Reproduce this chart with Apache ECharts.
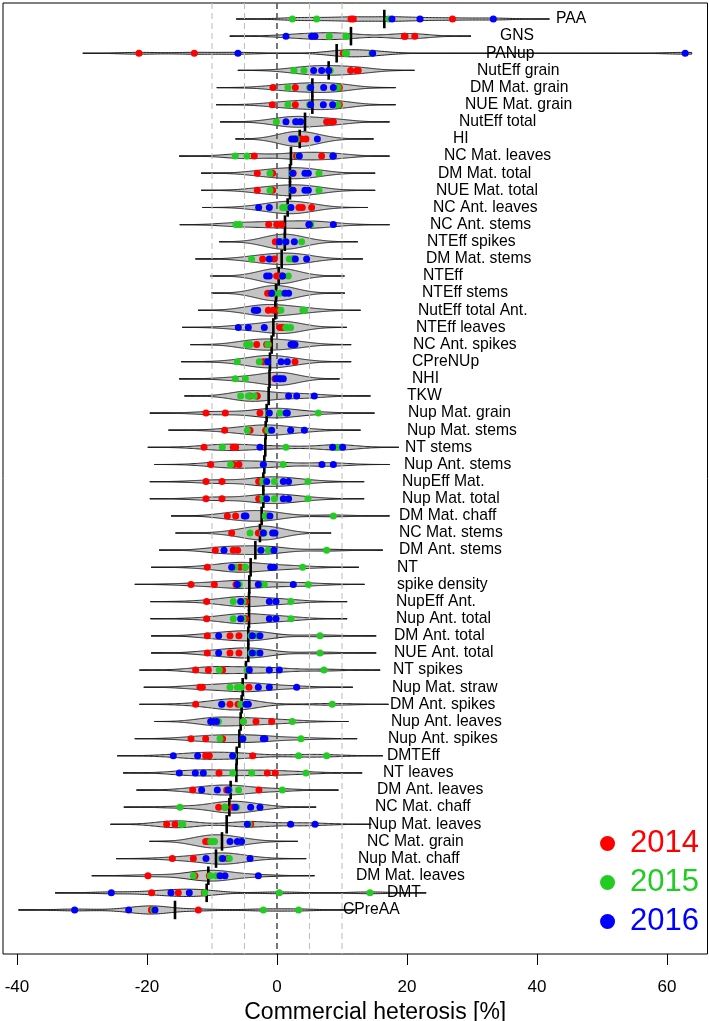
<!DOCTYPE html>
<html><head><meta charset="utf-8">
<script src="https://cdn.jsdelivr.net/npm/echarts@6/dist/echarts.min.js"></script>
<style>html,body{margin:0;padding:0;background:#fff}#c{width:709px;height:1021px}</style>
</head><body><div id="c"></div>
<script>
// ---------- DATA ----------
const traits = ["PAA","GNS","PANup","NutEff grain","DM Mat. grain","NUE Mat. grain","NutEff total","HI",
"NC Mat. leaves","DM Mat. total","NUE Mat. total","NC Ant. leaves","NC Ant. stems","NTEff spikes","DM Mat. stems",
"NTEff","NTEff stems","NutEff total Ant.","NTEff leaves","NC Ant. spikes","CPreNUp","NHI","TKW","Nup Mat. grain",
"Nup Mat. stems","NT stems","Nup Ant. stems","NupEff Mat.","Nup Mat. total","DM Mat. chaff","NC Mat. stems",
"DM Ant. stems","NT","spike density","NupEff Ant.","Nup Ant. total","DM Ant. total","NUE Ant. total","NT spikes",
"Nup Mat. straw","DM Ant. spikes","Nup Ant. leaves","Nup Ant. spikes","DMTEff","NT leaves","DM Ant. leaves",
"NC Mat. chaff","Nup Mat. leaves","NC Mat. grain","Nup Mat. chaff","DM Mat. leaves","DMT","CPreAA"];

const y2014 = [
[11.38,11.74,27.0],[19.6,19.7,21.2],[-21.23,-12.72,10.2],[11.33,12.3,12.5],[-0.62,2.82,9.6],[-0.72,2.82,9.6],
[7.64,8.4,8.67],[3.3,3.79,4.46],[-3.49,3.0,6.87],[-3.03,-0.67,2.5],[-3.03,-0.67,2.5],[3.38,3.9,5.33],
[-1.28,-0.05,0.72],[-0.26,0.5,1.0],[-2.21,-0.41,2.51],[-0.05,0.3,0.6],[-1.44,-0.9,-0.6],[-1.33,-0.56,0.2],
[0.46,0.87,1.0],[-3.13,-1.59,-1.28],[-2.1,-1.74,2.77],[-0.31,0.4,0.6],[-4.15,-3.1,-3.03],[-10.92,-7.95,-2.62],
[-8.05,-4.15,-1.74],[-11.23,-6.72,-6.36],[-10.2,-6.72,-5.85],[-10.92,-8.46,-2.82],[-10.92,-8.46,-2.82],
[-7.64,-6.36,-1.5],[-6.97,-2.87,-2.3],[-9.49,-6.72,-6.05],[-10.72,-5.69,-4.92],[-13.23,-9.64,-6.31],
[-10.82,-5.0,-4.82],[-10.82,-5.0,-4.82],[-10.72,-7.23,-5.85],[-10.72,-7.23,-5.85],[-12.51,-10.56,-8.36],
[-11.85,-11.49,-4.31],[-12.51,-7.23,-6.0],[-5.2,-3.23,-0.82],[-13.23,-10.97,-8.36],[-10.97,-10.41,-3.74],
[-8.92,-1.49,-0.26],[-12.97,-7.74,-2.77],[-8.97,-8.0,-6.8],[-16.97,-15.69,-4.05],[-10.97,-10.6,-9.8],
[-16.1,-12.87,-7.59],[-19.85,-12.62,-10.41],[-19.28,-15.18,-11.18],[-19.3,-19.28,-12.1]];

const y2015 = [
[2.36,6.10,17.2],[8.05,10.6,10.7],[10.5,10.7,14.6],[2.62,4.15,8.2],[1.69,5.0,9.4],[1.69,5.0,9.4],
[-0.1,3.1,3.2],[2.5,2.7,3.0],[-6.41,-4.62,3.3],[-1.08,2.3,6.46],[-1.08,2.3,6.46],[0.87,1.28,1.9],
[-6.31,-5.79,5.2],[0.7,0.9,3.79],[-3.9,1.9,2.4],[0.8,0.85,1.74],[-0.6,-0.5,0.46],[0.6,4.0,4.21],
[1.35,1.49,2.1],[-4.67,-4.15,-1.4],[-6.1,-2.72,-1.5],[-6.41,-4.87,0.6],[-5.59,-4.41,-3.5],[-1.3,0.46,6.36],
[-4.56,-1.4,-1.2],[-8.41,1.38,9.3],[-7.13,-2.1,0.97],[-2.2,-0.41,4.77],[-2.2,-0.41,4.77],
[-1.8,-1.74,8.67],[-4.15,-2.2,-2.0],[-2.5,-1.33,7.64],[-6.46,-4.9,3.95],[-5.8,-1.95,4.82],
[-6.72,-5.2,2.15],[-6.72,-5.2,2.15],[-4.0,-3.13,6.62],[-4.0,-3.13,6.62],[-8.87,-4.6,7.23],
[-7.23,-6.1,-5.5],[-8.45,-5.59,8.51],[-9.0,-5.18,2.36],[-8.77,-5.2,3.69],[-6.67,3.33,7.64],
[-6.8,-3.9,4.46],[-7.35,-5.9,0.82],[-14.92,-8.0,-6.2],[-14.67,-14.5,-4.3],[-10.2,-10.0,-9.6],
[-8.6,-8.5,-7.33],[-12.87,-10.27,-9.38],[-11.1,0.36,14.31],[-19.0,-2.1,3.33]];

const y2016 = [
[17.69,22.0,33.28],[1.38,5.33,5.85],[-6.0,14.72,62.8],[5.64,6.87,7.95],[5.18,7.18,8.67],[5.18,7.13,8.56],
[1.38,2.87,3.64],[2.26,2.77,6.21],[3.44,8.6,8.67],[2.41,4.3,4.82],[2.41,4.3,4.82],[-2.82,-1.18,2.15],
[4.9,4.97,8.67],[0.36,1.38,2.67],[-1.18,2.82,4.56],[-1.59,-1.18,0.87],[-0.82,1.23,1.79],[-3.49,-3.2,-2.97],
[-5.95,-4.41,-1.95],[2.15,2.5,2.77],[-1.44,0.62,1.59],[-0.15,0.46,0.97],[1.79,3.03,5.74],[-1.18,1.4,1.59],
[-0.82,2.1,4.21],[-2.62,8.56,10.1],[-2.1,6.92,8.67],[-1.59,0.97,1.79],[-1.59,0.97,1.79],
[-5.03,-4.77,-1.08],[-2.1,-0.67,-0.31],[-8.15,-2.46,-0.46],[-6.97,-0.97,-0.46],[-6.1,-2.87,2.51],
[-5.59,-1.18,-0.15],[-5.59,-1.18,-0.15],[-8.97,-3.79,-2.62],[-8.97,-3.79,-2.62],[-4.26,-1.18,0.36],
[-2.87,-1.18,3.03],[-8.51,-4.77,-4.41],[-10.2,-9.8,-9.3],[-5.28,-2.1,-1.85],[-15.95,-12.21,-6.82],
[-15.03,-12.56,-11.33],[-11.59,-9.18,-7.49],[-6.41,-4.05,-2.62],[-4.56,2.1,5.85],[-7.23,-6.1,-5.44],
[-10.92,-8.36,-4.15],[-8.77,-8.0,-2.87],[-25.49,-16.31,-13.49],[-31.13,-22.82,-18.77]];

// mean per trait (black bean line)
const means = [16.51,11.38,9.18,7.95,5.44,5.44,4.31,3.5,2.15,2.0,2.0,1.64,1.23,1.2,0.72,0.26,-0.15,-0.26,-0.56,
-0.82,-1.08,-1.15,-1.28,-1.59,-1.74,-1.8,-1.95,-2.1,-2.1,-2.36,-2.62,-3.33,-4.05,-4.26,-4.3,-4.3,-4.41,-4.41,
-4.77,-5.28,-5.44,-5.59,-5.79,-6.2,-6.25,-7.13,-7.33,-7.74,-8.46,-9.38,-10.56,-10.82,-15.69];

// where each trait name starts (axis units)
const labelX = [42.92,34.31,32.15,30.77,29.69,28.92,28.0,27.08,25.69,24.77,24.46,24.0,23.54,23.08,22.92,22.46,
22.31,21.69,21.38,20.92,20.77,20.77,20.0,20.15,20.0,19.69,19.54,19.23,19.23,18.77,18.77,18.77,18.46,18.46,18.31,
18.31,18.0,18.0,17.85,17.69,17.38,17.54,17.08,16.92,16.31,15.38,15.08,14.0,13.85,12.46,12.15,16.92,10.15];

const years = ["2014","2015","2016"];
const xTicks = [-40,-20,0,20,40,60];
const refLines = [-10,-5,0,5,10];

// ---------- DENSITY (common bandwidth, cut = 3 bw) ----------
const BW = 2.88, CUT = 3, CUT_MAX = 63.8, NEVAL = 220;
const dens = traits.map((t, i) => {
  const pts = y2014[i].concat(y2015[i], y2016[i]);
  const lo = Math.min(...pts) - CUT * BW;
  const hi = Math.min(Math.max(...pts) + CUT * BW, CUT_MAX);
  const xs = [], ds = [];
  for (let k = 0; k <= NEVAL; k++) {
    const x = lo + (hi - lo) * k / NEVAL;
    let s = 0;
    pts.forEach(p => { const z = (x - p) / BW; s += Math.exp(-0.5 * z * z); });
    xs.push(x); ds.push(s / (pts.length * BW * Math.sqrt(2 * Math.PI)));
  }
  return { lo, hi, xs, ds };
});
const gmax = Math.max(...dens.map(d => Math.max(...d.ds)));
const HALF = 0.45; // max half width in row units

const FONT = "'Liberation Sans', Arial, Helvetica, sans-serif";
const colors = ["#ff0000", "#22cc22", "#0000ff"];
const Y_MIN = 0.0654, Y_MAX = 55.57;

const chart = echarts.init(document.getElementById('c'), null, { renderer: 'canvas' });
const rowData = traits.map((t, i) => [means[i], i + 1]);

const option = {
  animation: false,
  backgroundColor: '#ffffff',
  grid: { left: 3, top: 3, width: 704.5, height: 951, containLabel: false, outerBoundsMode: 'none',
          show: true, borderColor: '#000', borderWidth: 1, backgroundColor: 'transparent' },
  xAxis: {
    type: 'value', min: -42.15, max: 66.23,
    axisLine: { show: false },
    splitLine: { show: false },
    axisTick: { show: true, customValues: xTicks, length: 11, lineStyle: { color: '#000', width: 1 } },
    axisLabel: { show: true, customValues: xTicks, margin: 25, fontSize: 17, color: '#000', fontFamily: FONT },
    name: 'Commercial heterosis [%]', nameLocation: 'middle', nameGap: 38,
    nameTextStyle: { fontSize: 23, color: '#000', fontFamily: FONT, padding: [0, 0, 0, 40] }
  },
  yAxis: { type: 'value', inverse: true, min: Y_MIN, max: Y_MAX, show: false },
  legend: {
    orient: 'vertical', right: 5, top: 823, itemGap: 8, selectedMode: false,
    icon: 'circle', itemWidth: 15, itemHeight: 15,
    textStyle: { fontSize: 31, fontFamily: FONT, padding: [0, 0, 0, 10] },
    data: years.map((y, k) => ({ name: y, textStyle: { color: colors[k] } }))
  },
  series: [
    { // beans
      type: 'custom', z: 1, silent: true, data: rowData,
      renderItem: (params, api) => {
        const i = params.dataIndex, row = i + 1, d = dens[i];
        const top = d.xs.map((x, k) => api.coord([x, row - d.ds[k] / gmax * HALF]));
        const bot = d.xs.map((x, k) => api.coord([x, row + d.ds[k] / gmax * HALF])).reverse();
        const a = api.coord([d.lo, row]), b = api.coord([d.hi, row]);
        return { type: 'group', children: [
          { type: 'line', shape: { x1: a[0], y1: a[1], x2: b[0], y2: b[1] }, style: { stroke: '#000', lineWidth: 1.2 } },
          { type: 'polygon', shape: { points: top.concat(bot) }, style: { fill: '#c4c4c4', stroke: '#222', lineWidth: 1 } }
        ]};
      }
    },
    { // reference lines
      type: 'custom', z: 2, silent: true, data: refLines.map(v => [v, 1]),
      renderItem: (params, api) => {
        const v = refLines[params.dataIndex];
        const a = api.coord([v, Y_MIN]), b = api.coord([v, Y_MAX]);
        return { type: 'line', shape: { x1: a[0], y1: a[1], x2: b[0], y2: b[1] },
          style: { stroke: v === 0 ? '#555555' : '#c0c0c0', lineWidth: v === 0 ? 1.6 : 1.1, lineDash: [6, 4] } };
      }
    },
    { // mean lines
      type: 'custom', z: 3, silent: true, data: rowData,
      renderItem: (params, api) => {
        const m = api.value(0), row = api.value(1);
        const a = api.coord([m, row - 0.54]), b = api.coord([m, row + 0.54]);
        return { type: 'line', shape: { x1: a[0], y1: a[1], x2: b[0], y2: b[1] }, style: { stroke: '#000', lineWidth: 2.6 } };
      }
    },
    ...[y2014, y2015, y2016].map((arr, k) => ({
      name: years[k], type: 'scatter', z: 4, symbol: 'circle', symbolSize: 7, silent: true,
      itemStyle: { color: colors[k], opacity: 1 },
      data: arr.flatMap((vals, i) => vals.map(v => [v, i + 1]))
    })),
    { // trait names
      type: 'custom', z: 5, silent: true, data: traits.map((t, i) => [labelX[i], i + 1]),
      renderItem: (params, api) => {
        const p = api.coord([api.value(0), api.value(1)]);
        return { type: 'text', x: p[0], y: p[1], style: { text: traits[params.dataIndex], fill: '#000',
          fontSize: 15.7, fontFamily: FONT, align: 'left', verticalAlign: 'middle' } };
      }
    }
  ]
};
chart.setOption(option);
</script></body></html>
